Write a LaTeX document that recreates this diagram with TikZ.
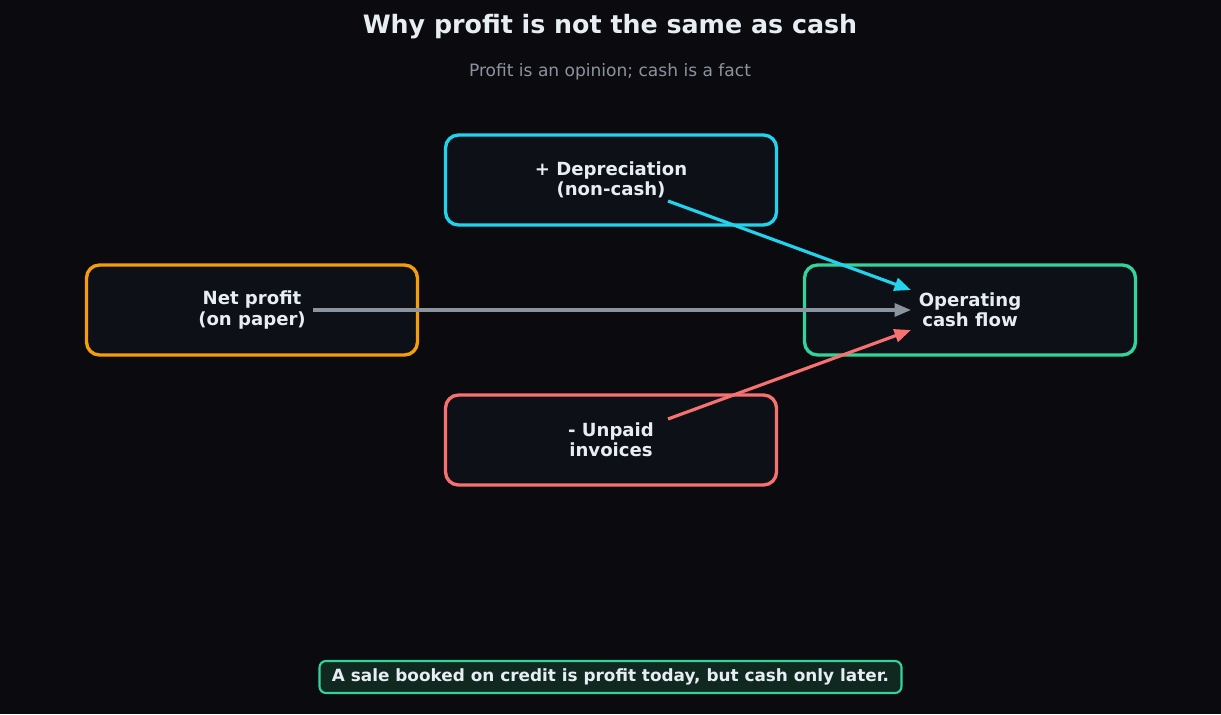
\documentclass[tikz,border=0pt]{standalone}
\usepackage{fontspec}
\setmainfont{DejaVu Sans}
\usetikzlibrary{arrows.meta,positioning}
\definecolor{bgdark}{HTML}{0A0A0F}
\definecolor{boxfill}{HTML}{0D1117}
\definecolor{textlight}{HTML}{E6EDF3}
\definecolor{subgray}{HTML}{8B949E}
\definecolor{cyanline}{HTML}{22D3EE}
\definecolor{orangeline}{HTML}{F59E0B}
\definecolor{greenline}{HTML}{34D399}
\definecolor{redline}{HTML}{F87171}
\definecolor{notefill}{HTML}{10281F}

\begin{document}
\begin{tikzpicture}[
      box/.style={draw,line width=1.9pt,rounded corners=2.6mm,fill=boxfill,
        minimum width=6.62cm,minimum height=1.8cm,text=textlight,align=center,
        font=\fontsize{10.3}{11.6}\selectfont\bfseries},
      trans/.style={-{Triangle[length=3.3mm,width=2.6mm]},line width=1.8pt},
      ]
      \fill[bgdark] (0,0) rectangle (24.42,14.28);
      \useasboundingbox (0,0) rectangle (24.42,14.28);

      \node (title) at (12.2,13.74) [text=textlight,font=\fontsize{14.4}{17}\selectfont\bfseries]
        {Why profit is not the same as cash};
      \node (sub) at (12.2,12.84) [text=subgray,font=\fontsize{9.7}{11}\selectfont]
        {Profit is an opinion; cash is a fact};

      \node (dep) at (12.22,10.68) [box,draw=cyanline] {+ Depreciation\\(non-cash)};
      \node (net) at (5.04,8.08) [box,draw=orangeline] {Net profit\\(on paper)};
      \node (ocf) at (19.4,8.08) [box,draw=greenline] {Operating\\cash flow};
      \node (unp) at (12.22,5.48) [box,draw=redline] {- Unpaid\\invoices};

      % arrow ends, offset from the box centres
      \coordinate (net out) at ([xshift=1.22cm]net.center);
      \coordinate (dep out) at ([shift={(1.14,-0.42)}]dep.center);
      \coordinate (unp out) at ([shift={(1.14,0.42)}]unp.center);
      \coordinate (ocf in) at ([xshift=-1.18cm]ocf.center);
      \coordinate (ocf top) at ([shift={(-1.18,0.4)}]ocf.center);
      \coordinate (ocf bot) at ([shift={(-1.18,-0.4)}]ocf.center);

      \draw [trans,subgray] (net out) to (ocf in);
      \draw [trans,cyanline] (dep out) to (ocf top);
      \draw [trans,redline] (unp out) to (ocf bot);

      \node (note) at (12.21,0.74) [draw=greenline,fill=notefill,line width=1.2pt,
        rounded corners=1.3mm,minimum width=11.64cm,minimum height=0.64cm,
        text=textlight,font=\fontsize{9.6}{11}\selectfont\bfseries]
        {A sale booked on credit is profit today, but cash only later.};
  \end{tikzpicture}
\end{document}
